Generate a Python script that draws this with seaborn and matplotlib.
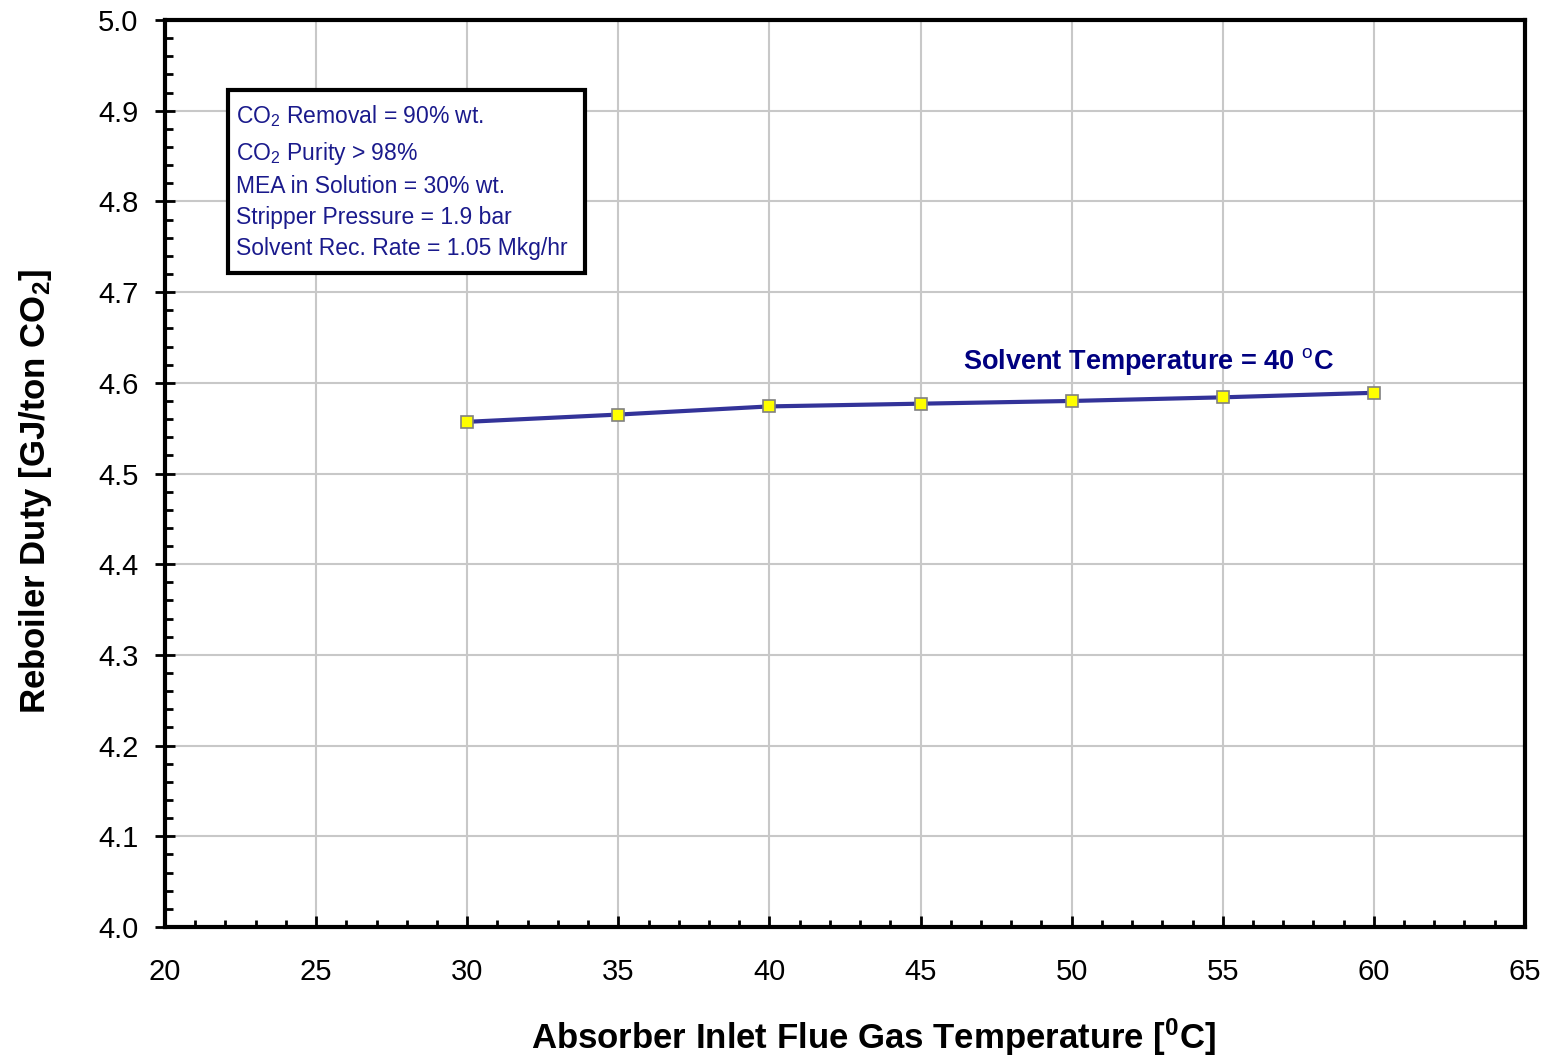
import matplotlib
matplotlib.use('Agg')
import matplotlib.pyplot as plt
from matplotlib.ticker import MultipleLocator, FormatStrFormatter
import pandas as pd
import seaborn as sns

# data
flue_gas_temp = [30, 35, 40, 45, 50, 55, 60]
reboiler_duty = [4.557, 4.565, 4.574, 4.577, 4.580, 4.584, 4.589]
series_label = 'Solvent Temperature = 40 $^\\mathrm{o}$C'
box_lines = ['CO$_2$ Removal = 90% wt.',
             'CO$_2$ Purity > 98%',
             'MEA in Solution = 30% wt.',
             'Stripper Pressure = 1.9 bar',
             'Solvent Rec. Rate = 1.05 Mkg/hr']

sns.set_style('white')
plt.rcParams['font.family'] = ['Liberation Sans', 'DejaVu Sans']
plt.rcParams['mathtext.fontset'] = 'custom'
plt.rcParams['mathtext.rm'] = 'Liberation Sans'
plt.rcParams['mathtext.bf'] = 'Liberation Sans:bold'
plt.rcParams['mathtext.it'] = 'Liberation Sans:italic'

df = pd.DataFrame({'temp': flue_gas_temp, 'duty': reboiler_duty})

fig = plt.figure(figsize=(15.48, 10.56), dpi=100)
ax = fig.add_axes([0.1066, 0.1222, 0.8785, 0.8588])

sns.lineplot(data=df, x='temp', y='duty', ax=ax, color='#333399', linewidth=3,
             marker='s', markersize=9, markerfacecolor='#ffff00',
             markeredgecolor='#808080', markeredgewidth=1.2, zorder=5)

ax.set_xlim(20, 65)
ax.set_ylim(4.0, 5.0)
ax.xaxis.set_major_locator(MultipleLocator(5))
ax.xaxis.set_minor_locator(MultipleLocator(1))
ax.yaxis.set_major_locator(MultipleLocator(0.1))
ax.yaxis.set_minor_locator(MultipleLocator(0.02))
ax.yaxis.set_major_formatter(FormatStrFormatter('%.1f'))
ax.grid(True, which='major', color='#c8c8c8', linewidth=1.5, zorder=0)

for s in ax.spines.values():
    s.set_color('black')
    s.set_linewidth(3)

ax.tick_params(axis='x', which='both', bottom=True, top=False)
ax.tick_params(axis='y', which='both', left=True, right=False)
ax.tick_params(axis='x', which='major', direction='in', length=8, width=2,
               labelsize=21, pad=22, colors='black')
ax.tick_params(axis='x', which='minor', direction='in', length=5, width=2,
               colors='black')
ax.tick_params(axis='y', which='major', direction='inout', length=14, width=2,
               labelsize=21, pad=12, colors='black')
ax.tick_params(axis='y', which='minor', direction='in', length=6, width=2,
               colors='black')

ax.set_xlabel('Absorber Inlet Flue Gas Temperature [$^\\mathbf{0}$C]',
              fontsize=25, fontweight='bold', color='black')
ax.set_ylabel('Reboiler Duty [GJ/ton CO$_\\mathbf{2}$]',
              fontsize=25, fontweight='bold', color='black')
ax.xaxis.set_label_coords(0.521, -0.1215)
ax.xaxis.label.set_va('center')
ax.yaxis.set_label_coords(-0.095, 0.48)
ax.yaxis.label.set_va('center')

# series label
ax.text(46.4, 4.623, series_label, color='#000080', fontsize=19.5,
        fontweight='bold', va='center', ha='left')

# conditions box
ax.add_patch(plt.Rectangle((22.08, 4.721), 11.82, 0.202, fill=True,
                           facecolor='white', edgecolor='black', linewidth=3,
                           zorder=6))
box_y = [4.894, 4.853, 4.816, 4.782, 4.748]
for yy, t in zip(box_y, box_lines):
    ax.text(22.35, yy, t, color='#1a1a8c', fontsize=16.5, va='center',
            ha='left', zorder=7)

fig.savefig('out.png', dpi=100)
